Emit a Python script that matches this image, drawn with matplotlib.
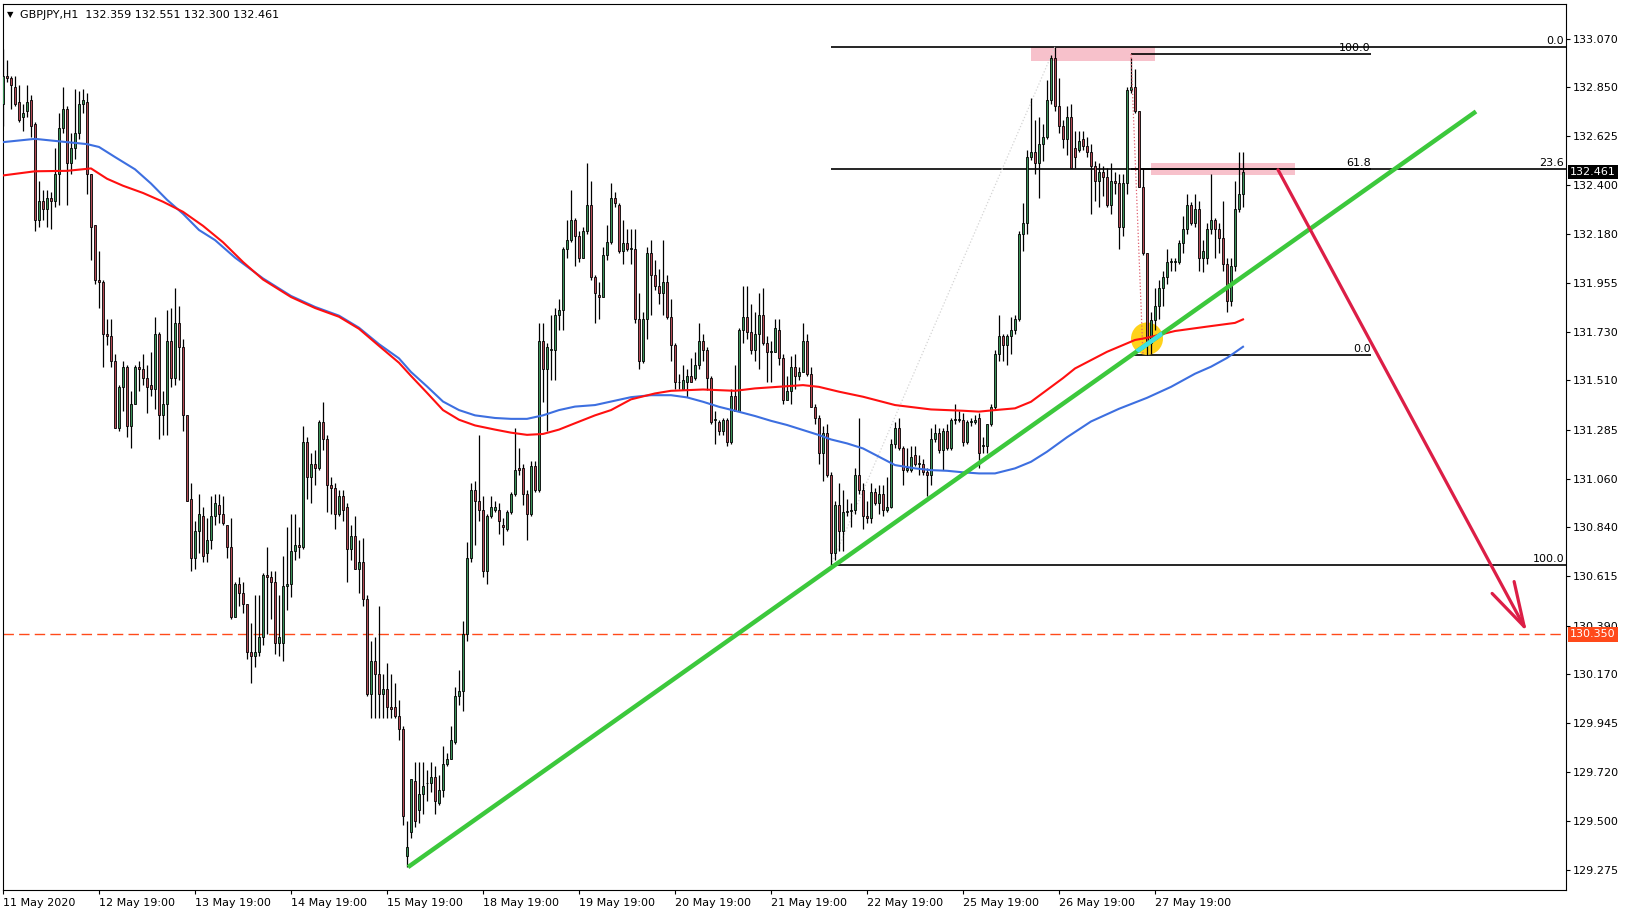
import matplotlib.pyplot as plt
import matplotlib.transforms as mtransforms
from matplotlib.patches import Rectangle, Ellipse, FancyArrowPatch
import numpy as np

# GBPJPY H1, one value per bar (bar 0 = 11 May 2020)
opens = [
    132.77, 132.90, 132.89, 132.85, 132.78, 132.71, 132.74, 132.79, 132.68, 132.24,
    132.33, 132.29, 132.34, 132.33, 132.45, 132.66, 132.75, 132.50, 132.57, 132.64,
    132.77, 132.78, 132.45, 132.22, 131.97, 131.96, 131.72, 131.71, 131.60, 131.29,
    131.48, 131.57, 131.30, 131.40, 131.57, 131.56, 131.52, 131.49, 131.47, 131.72,
    131.35, 131.40, 131.69, 131.52, 131.77, 131.66, 131.35, 130.97, 130.70, 130.82,
    130.89, 130.72, 130.78, 130.89, 130.94, 130.90, 130.85, 130.75, 130.43, 130.58,
    130.54, 130.49, 130.27, 130.25, 130.27, 130.34, 130.62, 130.61, 130.59, 130.31,
    130.31, 130.57, 130.58, 130.73, 130.76, 130.75, 131.23, 131.07, 131.13, 131.11,
    131.32, 131.24, 131.03, 131.02, 130.90, 130.98, 130.93, 130.74, 130.80, 130.65,
    130.68, 130.51, 130.08, 130.23, 130.17, 130.08, 130.10, 130.02, 130.02, 129.98,
    129.92, 129.34, 129.45, 129.68, 129.55, 129.62, 129.67, 129.67, 129.70, 129.58,
    129.64, 129.76, 129.78, 129.86, 130.07, 130.09, 130.35, 130.70, 131.01, 130.96,
    130.92, 130.64, 130.89, 130.92, 130.92, 130.85, 130.83, 130.91, 130.99, 131.11,
    131.11, 130.99, 130.90, 131.12, 131.01, 131.69, 131.56, 131.65, 131.65, 131.81,
    131.83, 132.11, 132.15, 132.24, 132.17, 132.07, 132.19, 132.31, 131.98, 131.90,
    131.89, 132.08, 132.14, 132.34, 132.31, 132.10, 132.135, 132.11, 132.11, 131.79,
    131.60, 131.79, 132.09, 131.99, 131.94, 131.91, 131.96, 131.80, 131.67, 131.50,
    131.47, 131.50, 131.53, 131.52, 131.58, 131.69, 131.65, 131.52, 131.33, 131.32,
    131.28, 131.33, 131.23, 131.44, 131.37, 131.74, 131.80, 131.73, 131.65, 131.72,
    131.81, 131.68, 131.64, 131.64, 131.74, 131.61, 131.42, 131.46, 131.57, 131.53,
    131.55, 131.69, 131.54, 131.39, 131.34, 131.18, 131.27, 131.08, 130.72, 130.94,
    130.82, 130.91, 130.915, 130.92, 131.08, 131.01, 130.89, 130.88, 131.00, 130.95,
    130.99, 130.92, 130.93, 131.22, 131.29, 131.20, 131.10, 131.10, 131.17, 131.13,
    131.13, 131.09, 131.08, 131.24, 131.27, 131.19, 131.28, 131.20, 131.33, 131.33,
    131.33, 131.23, 131.32, 131.32, 131.34, 131.21, 131.21, 131.31, 131.39, 131.63,
    131.71, 131.67, 131.71, 131.74, 131.79, 132.18, 132.23, 132.53, 132.55, 132.50,
    132.59, 132.62, 132.79, 132.98, 132.76, 132.67, 132.61, 132.71, 132.57, 132.56,
    132.61, 132.58, 132.55, 132.49, 132.42, 132.46, 132.44, 132.31, 132.42, 132.41,
    132.21, 132.41, 132.835, 132.85, 132.74, 132.39, 132.09, 131.68, 131.785, 131.85,
    131.93, 131.98, 132.05, 132.05, 132.05, 132.135, 132.20, 132.31, 132.23, 132.29,
    132.07, 132.07, 132.20, 132.24, 132.20, 132.16, 132.04, 131.87, 132.03, 132.29,
    132.359,
]
highs = [
    133.02, 132.97, 132.90, 132.90, 132.86, 132.77, 132.86, 132.81, 132.69, 132.42,
    132.38, 132.38, 132.37, 132.57, 132.73, 132.85, 132.76, 132.64, 132.84, 132.83,
    132.84, 132.82, 132.45, 132.22, 132.10, 131.97, 131.79, 131.79, 131.63, 131.49,
    131.60, 131.58, 131.46, 131.58, 131.60, 131.63, 131.58, 131.64, 131.80, 131.73,
    131.46, 131.83, 131.84, 131.93, 131.85, 131.70, 131.35, 131.04, 130.87, 130.99,
    130.93, 130.88, 130.98, 130.99, 130.99, 130.98, 130.85, 130.88, 130.59, 130.61,
    130.59, 130.49, 130.40, 130.53, 130.53, 130.63, 130.75, 130.64, 130.64, 130.53,
    130.71, 130.84, 130.90, 130.90, 130.84, 131.30, 131.25, 131.18, 131.19, 131.33,
    131.41, 131.26, 131.07, 131.04, 131.01, 131.01, 130.95, 130.85, 130.89, 130.78,
    130.79, 130.53, 130.32, 130.34, 130.48, 130.17, 130.22, 130.17, 130.13, 130.05,
    129.93, 129.50, 129.69, 129.77, 129.77, 129.77, 129.73, 129.77, 129.75, 129.71,
    129.84, 129.81, 129.93, 130.11, 130.19, 130.41, 130.77, 131.04, 131.05, 131.26,
    130.98, 130.90, 130.98, 130.96, 130.95, 130.88, 130.92, 131.00, 131.29, 131.20,
    131.13, 131.01, 131.14, 131.14, 131.77, 131.77, 131.68, 131.81, 131.84, 131.88,
    132.12, 132.24, 132.38, 132.25, 132.19, 132.21, 132.50, 132.42, 131.99, 131.96,
    132.12, 132.22, 132.41, 132.37, 132.32, 132.24, 132.20, 132.20, 132.20, 131.91,
    131.82, 132.12, 132.15, 132.06, 132.02, 132.15, 131.99, 131.88, 131.68, 131.54,
    131.58, 131.56, 131.61, 131.64, 131.77, 131.72, 131.66, 131.53, 131.37, 131.33,
    131.34, 131.34, 131.47, 131.58, 131.75, 131.94, 131.94, 131.86, 131.82, 131.91,
    131.93, 131.71, 131.69, 131.79, 131.79, 131.63, 131.53, 131.62, 131.63, 131.57,
    131.77, 131.72, 131.57, 131.40, 131.35, 131.30, 131.31, 131.09, 130.96, 131.04,
    131.01, 130.97, 130.95, 131.11, 131.34, 131.04, 130.96, 131.04, 131.02, 131.03,
    131.03, 131.07, 131.24, 131.32, 131.34, 131.21, 131.20, 131.21, 131.21, 131.17,
    131.15, 131.11, 131.29, 131.31, 131.29, 131.29, 131.31, 131.34, 131.40, 131.37,
    131.36, 131.33, 131.34, 131.35, 131.36, 131.25, 131.31, 131.40, 131.65, 131.81,
    131.72, 131.72, 131.80, 131.81, 132.19, 132.32, 132.56, 132.80, 132.70, 132.71,
    132.68, 132.88, 132.995, 133.03, 132.89, 132.70, 132.76, 132.77, 132.65, 132.65,
    132.65, 132.62, 132.59, 132.51, 132.50, 132.49, 132.48, 132.50, 132.46, 132.45,
    132.45, 132.85, 132.98, 132.93, 132.74, 132.48, 132.09, 131.82, 131.93, 131.97,
    132.01, 132.11, 132.07, 132.07, 132.15, 132.26, 132.36, 132.325, 132.36, 132.33,
    132.15, 132.23, 132.45, 132.25, 132.23, 132.33, 132.07, 132.07, 132.42, 132.55,
    132.551,
]
lows = [
    132.67, 132.87, 132.75, 132.76, 132.69, 132.65, 132.71, 132.62, 132.19, 132.21,
    132.24, 132.21, 132.20, 132.30, 132.31, 132.64, 132.31, 132.45, 132.52, 132.61,
    132.73, 132.36, 132.06, 131.95, 131.84, 131.57, 131.67, 131.57, 131.29, 131.28,
    131.37, 131.25, 131.20, 131.40, 131.46, 131.49, 131.36, 131.44, 131.38, 131.24,
    131.26, 131.26, 131.48, 131.49, 131.51, 131.28, 130.96, 130.64, 130.65, 130.72,
    130.68, 130.68, 130.74, 130.85, 130.86, 130.85, 130.70, 130.42, 130.43, 130.48,
    130.45, 130.24, 130.13, 130.20, 130.25, 130.30, 130.35, 130.42, 130.26, 130.25,
    130.23, 130.46, 130.52, 130.69, 130.70, 130.74, 130.97, 130.95, 131.03, 131.10,
    131.19, 130.91, 130.90, 130.83, 130.89, 130.87, 130.59, 130.69, 130.65, 130.54,
    130.48, 130.07, 129.97, 129.97, 129.97, 129.97, 129.97, 129.97, 129.97, 129.87,
    129.48, 129.29, 129.42, 129.47, 129.49, 129.53, 129.59, 129.63, 129.53, 129.57,
    129.61, 129.75, 129.78, 129.85, 130.03, 130.00, 130.32, 130.68, 130.76, 130.87,
    130.61, 130.58, 130.88, 130.91, 130.81, 130.76, 130.82, 130.90, 130.98, 131.08,
    130.94, 130.78, 130.89, 131.00, 131.00, 131.41, 131.28, 131.51, 131.51, 131.74,
    131.74, 132.07, 132.14, 132.03, 132.05, 132.07, 132.18, 131.97, 131.77, 131.79,
    131.89, 132.06, 132.13, 132.30, 132.09, 132.04, 132.10, 132.04, 131.77, 131.56,
    131.59, 131.70, 131.81, 131.92, 131.86, 131.81, 131.79, 131.60, 131.47, 131.47,
    131.47, 131.435, 131.50, 131.51, 131.56, 131.60, 131.465, 131.31, 131.22, 131.26,
    131.26, 131.21, 131.22, 131.37, 131.37, 131.68, 131.70, 131.63, 131.60, 131.56,
    131.67, 131.50, 131.50, 131.64, 131.58, 131.40, 131.42, 131.40, 131.47, 131.51,
    131.55, 131.53, 131.39, 131.31, 131.13, 131.05, 131.07, 130.667, 130.69, 130.73,
    130.73, 130.89, 130.84, 130.90, 130.99, 130.83, 130.86, 130.86, 130.94, 130.90,
    130.89, 130.91, 130.925, 131.20, 131.19, 131.03, 131.09, 131.09, 131.12, 131.08,
    131.08, 130.98, 131.03, 131.23, 131.18, 131.10, 131.19, 131.19, 131.31, 131.32,
    131.21, 131.22, 131.30, 131.31, 131.11, 131.18, 131.18, 131.30, 131.38, 131.60,
    131.60, 131.58, 131.63, 131.72, 131.78, 132.10, 132.18, 132.515, 132.45, 132.34,
    132.51, 132.61, 132.77, 132.74, 132.64, 132.57, 132.54, 132.48, 132.48, 132.55,
    132.56, 132.53, 132.27, 132.33, 132.30, 132.35, 132.30, 132.27, 132.36, 132.11,
    132.17, 132.36, 132.82, 132.73, 132.39, 132.08, 131.625, 131.63, 131.74, 131.79,
    131.85, 131.95, 132.01, 132.01, 132.04, 132.09, 132.18, 132.22, 132.21, 132.01,
    132.005, 132.04, 132.18, 132.07, 132.09, 132.01, 131.82, 131.85, 132.01, 132.28,
    132.300,
]
closes = [
    132.90, 132.89, 132.86, 132.77, 132.70, 132.73, 132.78, 132.67, 132.24, 132.33,
    132.29, 132.34, 132.33, 132.45, 132.66, 132.75, 132.50, 132.57, 132.64, 132.77,
    132.79, 132.45, 132.21, 131.97, 131.96, 131.72, 131.71, 131.60, 131.29, 131.48,
    131.57, 131.30, 131.40, 131.57, 131.56, 131.52, 131.48, 131.47, 131.72, 131.35,
    131.40, 131.69, 131.52, 131.77, 131.66, 131.35, 130.96, 130.70, 130.82, 130.90,
    130.71, 130.78, 130.89, 130.95, 130.90, 130.86, 130.75, 130.43, 130.58, 130.54,
    130.49, 130.27, 130.25, 130.27, 130.34, 130.62, 130.61, 130.59, 130.31, 130.34,
    130.57, 130.58, 130.73, 130.76, 130.75, 131.23, 131.07, 131.13, 131.11, 131.32,
    131.24, 131.03, 131.02, 130.90, 130.98, 130.92, 130.74, 130.80, 130.65, 130.68,
    130.51, 130.08, 130.23, 130.17, 130.08, 130.10, 130.02, 130.01, 129.98, 129.92,
    129.52, 129.38, 129.69, 129.50, 129.62, 129.66, 129.67, 129.70, 129.59, 129.64,
    129.76, 129.78, 129.87, 130.07, 130.09, 130.35, 130.70, 131.01, 130.96, 130.92,
    130.64, 130.89, 130.93, 130.93, 130.87, 130.84, 130.91, 130.99, 131.10, 131.10,
    130.99, 130.90, 131.12, 131.01, 131.69, 131.56, 131.66, 131.65, 131.81, 131.83,
    132.11, 132.15, 132.24, 132.17, 132.07, 132.19, 132.31, 131.98, 131.91, 131.89,
    132.08, 132.14, 132.34, 132.32, 132.10, 132.135, 132.11, 132.11, 131.79, 131.60,
    131.79, 132.09, 131.99, 131.94, 131.91, 131.96, 131.80, 131.67, 131.50, 131.50,
    131.51, 131.53, 131.50, 131.58, 131.69, 131.65, 131.52, 131.32, 131.33, 131.28,
    131.33, 131.23, 131.44, 131.37, 131.74, 131.80, 131.73, 131.65, 131.72, 131.81,
    131.68, 131.64, 131.64, 131.75, 131.61, 131.42, 131.46, 131.57, 131.53, 131.55,
    131.69, 131.54, 131.39, 131.34, 131.18, 131.27, 131.08, 130.72, 130.94, 130.82,
    130.91, 130.915, 130.92, 131.08, 131.01, 130.89, 130.88, 131.00, 130.95, 130.99,
    130.92, 130.93, 131.22, 131.29, 131.20, 131.10, 131.11, 131.16, 131.13, 131.13,
    131.09, 131.08, 131.24, 131.27, 131.19, 131.28, 131.20, 131.33, 131.33, 131.33,
    131.23, 131.32, 131.32, 131.33, 131.18, 131.21, 131.31, 131.39, 131.63, 131.71,
    131.67, 131.71, 131.74, 131.79, 132.18, 132.23, 132.53, 132.55, 132.50, 132.59,
    132.62, 132.79, 132.98, 132.76, 132.67, 132.61, 132.71, 132.48, 132.53, 132.60,
    132.58, 132.55, 132.49, 132.42, 132.46, 132.44, 132.31, 132.42, 132.41, 132.21,
    132.41, 132.835, 132.85, 132.74, 132.39, 132.09, 131.69, 131.785, 131.85, 131.93,
    131.98, 132.05, 132.05, 132.055, 132.135, 132.20, 132.31, 132.23, 132.29, 132.07,
    132.10, 132.20, 132.24, 132.20, 132.16, 132.04, 131.87, 132.03, 132.29, 132.36,
    132.461,
]

# moving averages at sample bars
ma_red_bars = [0, 8, 16, 22, 26, 30, 35, 40, 45, 50, 55, 60, 65, 72, 78, 84, 89, 94,
               99, 102, 106, 110, 114, 118, 123, 127, 131, 135, 139, 143, 148, 152, 157,
               163, 167, 175, 183, 188, 196, 200, 204, 209, 215, 223, 232, 240, 244,
               248, 253, 257, 261, 265, 268, 276, 283, 286, 293, 301, 308, 310]
ma_red = [132.445, 132.464, 132.466, 132.477, 132.430, 132.398, 132.365, 132.325,
          132.279, 132.215, 132.14, 132.05, 131.97, 131.89, 131.84, 131.80, 131.745,
          131.667, 131.59, 131.53, 131.453, 131.374, 131.330, 131.304, 131.285,
          131.271, 131.261, 131.265, 131.285, 131.314, 131.35, 131.374, 131.423,
          131.45, 131.462, 131.468, 131.462, 131.473, 131.483, 131.488, 131.48,
          131.458, 131.435, 131.397, 131.377, 131.371, 131.367, 131.374, 131.382,
          131.412, 131.466, 131.52, 131.564, 131.64, 131.694, 131.704, 131.735,
          131.755, 131.772, 131.788]
ma_blue_bars = [0, 8, 16, 21, 24, 28, 33, 37, 41, 45, 49, 53, 58, 65, 72, 78, 84, 89,
                94, 99, 102, 106, 110, 114, 118, 123, 127, 131, 135, 139, 143, 148,
                152, 157, 162, 167, 171, 175, 179, 183, 188, 192, 196, 200, 204, 207,
                211, 215, 219, 223, 228, 232, 236, 240, 244, 248, 253, 257, 261, 266,
                272, 279, 286, 292, 298, 302, 306, 310]
ma_blue = [132.597, 132.612, 132.597, 132.588, 132.575, 132.529, 132.473, 132.408,
           132.334, 132.270, 132.196, 132.150, 132.07, 131.975, 131.895, 131.845,
           131.805, 131.75, 131.675, 131.61, 131.548, 131.482, 131.413, 131.374,
           131.35, 131.338, 131.334, 131.334, 131.35, 131.374, 131.39, 131.397,
           131.413, 131.433, 131.442, 131.442, 131.432, 131.412, 131.389, 131.371,
           131.347, 131.325, 131.306, 131.283, 131.26, 131.24, 131.222, 131.199,
           131.161, 131.123, 131.108, 131.10, 131.097, 131.09, 131.085, 131.085,
           131.108, 131.138, 131.184, 131.25, 131.322, 131.38, 131.43, 131.48,
           131.54, 131.572, 131.612, 131.663]

date_ticks = [0, 24, 48, 72, 96, 120, 144, 168, 192, 216, 240, 264, 288]
date_labels = ['11 May 2020', '12 May 19:00', '13 May 19:00', '14 May 19:00',
               '15 May 19:00', '18 May 19:00', '19 May 19:00', '20 May 19:00',
               '21 May 19:00', '22 May 19:00', '25 May 19:00', '26 May 19:00',
               '27 May 19:00']
price_ticks = [133.070, 132.850, 132.625, 132.400, 132.180, 131.955, 131.730, 131.510,
               131.285, 131.060, 130.840, 130.615, 130.390, 130.170, 129.945, 129.720,
               129.500, 129.275]

# drawn objects (bar index, price)
fib1_start, fib1_levels, fib1_names = 207, [133.032, 132.474, 130.667], ['0.0', '23.6', '100.0']
fib2_span, fib2_levels, fib2_names = (282, 341.9), [132.999, 132.474, 131.625], ['100.0', '61.8', '0.0']
trend_bars, trend_prices = [101.25, 368.25], [129.288, 132.737]
arrow_bars, arrow_prices = [318.75, 381.0], [132.471, 130.362]
zones = [(257, 288, 132.969, 133.032), (287, 323, 132.447, 132.503)]
target = 130.350

GREEN, RED = '#3b9157', '#b34a55'
W, H = 1632, 916

fig = plt.figure(figsize=(W / 100, H / 100), dpi=100)
ax = fig.add_axes([2.5 / W, 1 - 890 / H, (1566 - 2.5) / W, (890 - 4) / H])
ax.set_xlim(-0.125, 390.75)
ax.set_ylim(129.1836, 133.2275)

# candles
x = np.arange(len(closes))
o, hi, lo, c = (np.array(a) for a in (opens, highs, lows, closes))
up = c >= o
ax.vlines(x, lo, hi, color='black', lw=0.9, zorder=3)
body = np.maximum(np.abs(c - o), 0.004)
bottom = np.minimum(o, c)
ax.bar(x[up], body[up], bottom=bottom[up], width=0.65, color=GREEN,
       edgecolor='black', linewidth=0.6, zorder=4)
ax.bar(x[~up], body[~up], bottom=bottom[~up], width=0.65, color=RED,
       edgecolor='black', linewidth=0.6, zorder=4)

# moving averages
ax.plot(ma_blue_bars, ma_blue, color='#3d6fe0', lw=1.5, zorder=5)
ax.plot(ma_red_bars, ma_red, color='#ff1010', lw=1.5, zorder=5)

# supply zones
for x0, x1, y0, y1 in zones:
    ax.add_patch(Rectangle((x0, y0), x1 - x0, y1 - y0, color='#f7c1cb', lw=0, zorder=1))

# fibonacci 1
ax.hlines(fib1_levels, fib1_start, 390.75, color='black', lw=1.2, zorder=2)
for lv, nm in zip(fib1_levels, fib1_names):
    ax.text(390.3, lv + 0.004, nm, ha='right', va='bottom', fontsize=8, zorder=6)
ax.plot([fib1_start, 263], [fib1_levels[2], fib1_levels[0]], color='#d4d4d4',
        lw=0.9, ls=':', zorder=2)

# fibonacci 2
ax.hlines(fib2_levels, fib2_span[0], fib2_span[1], color='black', lw=1.2, zorder=2)
for lv, nm in zip(fib2_levels, fib2_names):
    ax.text(fib2_span[1], lv + 0.004, nm, ha='right', va='bottom', fontsize=8, zorder=6)
ax.plot([fib2_span[0], 285], [fib2_levels[0], fib2_levels[2]], color='#e06070',
        lw=0.9, ls=':', zorder=4.5)

# target line
ax.axhline(target, color='#ff4a1a', lw=1.0, dashes=(7.5, 3.75), zorder=2)

# touch point circle and trendline
circ = Ellipse((286.0, 131.700), 8.0, 0.148, fc='#ffd21a', ec='none', zorder=2)
ax.add_patch(circ)
ax.plot(trend_bars, trend_prices, color='#3cc83c', lw=3.2, zorder=6,
        solid_capstyle='butt')
cyan, = ax.plot(trend_bars, trend_prices, color='#40e0e0', lw=3.2, zorder=6.5,
                solid_capstyle='butt')
cyan.set_clip_path(circ)

arrow = FancyArrowPatch((arrow_bars[0], arrow_prices[0]), (arrow_bars[1], arrow_prices[1]),
                        arrowstyle='->,head_length=3.2,head_width=0.9', mutation_scale=10,
                        color='#dc1e46', lw=2.3, shrinkA=0, shrinkB=0, zorder=7)
ax.add_patch(arrow)

# axes styling
for sp in ax.spines.values():
    sp.set_linewidth(0.8)
ax.yaxis.tick_right()
ax.set_yticks(price_ticks)
ax.set_yticklabels([f'{p:.3f}' for p in price_ticks])
ax.set_xticks(date_ticks)
ax.set_xticklabels(date_labels)
for lab in ax.get_xticklabels():
    lab.set_ha('left')
ax.tick_params(axis='both', direction='out', length=3, width=0.8, labelsize=8,
               colors='black')
ax.tick_params(axis='y', pad=2)
ax.tick_params(axis='x', pad=3)

# price boxes on the scale
bt = mtransforms.blended_transform_factory(ax.transAxes, ax.transData)
ax.text(1.0 + 4 / 1563.5, closes[-1], f'{closes[-1]:.3f}', transform=bt, ha='left',
        va='center', fontsize=8, color='white', clip_on=False, zorder=10,
        bbox=dict(boxstyle='square,pad=0.2', fc='black', ec='none'))
ax.text(1.0 + 4 / 1563.5, target, f'{target:.3f}', transform=bt, ha='left',
        va='center', fontsize=8, color='white', clip_on=False, zorder=10,
        bbox=dict(boxstyle='square,pad=0.2', fc='#ff4a1a', ec='none'))

# header
fig.text(7 / W, 1 - 14.5 / H, '\u25bc', fontsize=6, va='center')
fig.text(20 / W, 1 - 14.5 / H,
         f'GBPJPY,H1  {opens[-1]:.3f} {highs[-1]:.3f} {lows[-1]:.3f} {closes[-1]:.3f}',
         fontsize=8, va='center')

fig.savefig('out.png', dpi=100)
